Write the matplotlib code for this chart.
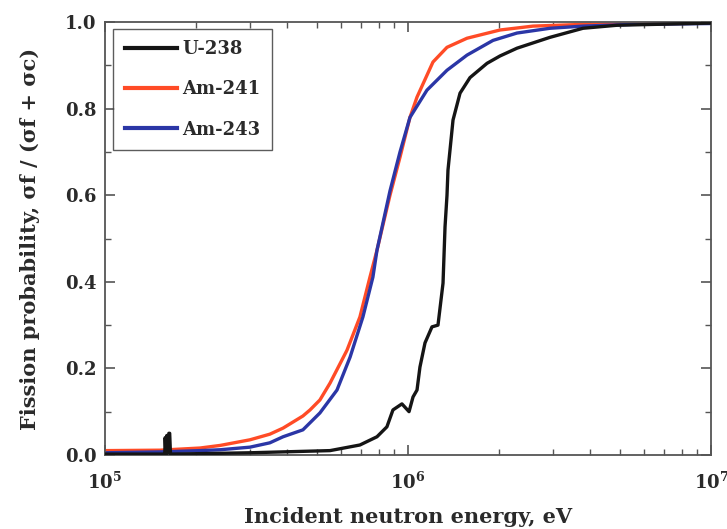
import matplotlib
matplotlib.use("Agg")
import matplotlib.pyplot as plt
from matplotlib.ticker import LogLocator, FixedLocator, NullFormatter, FormatStrFormatter, FixedFormatter

plt.rcParams['font.family'] = ['DejaVu Serif']
plt.rcParams['font.weight'] = 'bold'
plt.rcParams['mathtext.fontset'] = 'dejavuserif'
plt.rcParams['mathtext.default'] = 'bf'

# Data (energy in eV, fission probability)
u238_E = [1.0e5, 1.55e5, 1.575e5, 1.58e5, 1.59e5, 1.60e5, 1.61e5, 1.625e5, 1.635e5, 1.645e5,
          2.06e5, 3.01e5, 5.53e5, 6.94e5, 7.90e5, 8.52e5, 8.92e5, 9.55e5, 1.008e6, 1.039e6,
          1.071e6, 1.095e6, 1.138e6, 1.20e6, 1.256e6, 1.305e6, 1.325e6, 1.345e6, 1.355e6,
          1.408e6, 1.485e6, 1.602e6, 1.823e6, 2.012e6, 2.29e6, 2.94e6, 3.78e6, 4.9e6, 1.0e7]
u238_P = [0.002, 0.002, 0.002, 0.040, 0.003, 0.045, 0.004, 0.050, 0.050, 0.002,
          0.003, 0.005, 0.010, 0.023, 0.042, 0.065, 0.104, 0.118, 0.100, 0.134,
          0.150, 0.203, 0.259, 0.296, 0.300, 0.397, 0.527, 0.600, 0.658,
          0.774, 0.836, 0.872, 0.905, 0.922, 0.940, 0.965, 0.986, 0.993, 0.998]

am241_E = [1.0e5, 1.52e5, 2.06e5, 2.40e5, 3.01e5, 3.50e5, 3.87e5, 4.50e5, 4.75e5, 5.12e5,
           5.53e5, 6.29e5, 6.94e5, 7.49e5, 7.90e5, 8.72e5, 9.41e5, 1.015e6, 1.071e6,
           1.209e6, 1.345e6, 1.566e6, 2.012e6, 2.585e6, 3.78e6, 1.0e7]
am241_P = [0.010, 0.011, 0.016, 0.022, 0.035, 0.048, 0.062, 0.090, 0.104, 0.127,
           0.166, 0.242, 0.319, 0.411, 0.473, 0.600, 0.688, 0.780, 0.827,
           0.908, 0.942, 0.963, 0.982, 0.991, 0.995, 0.998]

am243_E = [1.0e5, 1.52e5, 2.06e5, 2.40e5, 3.01e5, 3.50e5, 3.87e5, 4.50e5, 5.12e5, 5.83e5,
           6.44e5, 7.10e5, 7.66e5, 7.90e5, 8.72e5, 9.41e5, 1.015e6, 1.155e6, 1.345e6,
           1.566e6, 1.908e6, 2.29e6, 2.94e6, 3.78e6, 5.53e6, 1.0e7]
am243_P = [0.005, 0.007, 0.010, 0.012, 0.018, 0.028, 0.042, 0.058, 0.097, 0.150,
           0.226, 0.319, 0.411, 0.473, 0.610, 0.700, 0.780, 0.843, 0.889,
           0.924, 0.958, 0.975, 0.986, 0.991, 0.995, 0.997]

labels = ['U-238', 'Am-241', 'Am-243']
colors = ['#151515', '#FF4B26', '#2B36A6']
x_ticks = [1e5, 1e6, 1e7]
x_ticklabels = [r'$\mathbf{10^5}$', r'$\mathbf{10^6}$', r'$\mathbf{10^7}$']
y_ticks = [0.0, 0.2, 0.4, 0.6, 0.8, 1.0]
y_minor = [0.1, 0.3, 0.5, 0.7, 0.9]

fig = plt.figure(figsize=(7.27, 5.29), dpi=100)
ax = fig.add_axes([0.1444, 0.140, 0.8336, 0.818])

ax.plot(u238_E, u238_P, color=colors[0], lw=2.4, label=labels[0], zorder=3)
ax.plot(am241_E, am241_P, color=colors[1], lw=2.4, label=labels[1], zorder=2)
ax.plot(am243_E, am243_P, color=colors[2], lw=2.4, label=labels[2], zorder=2)

ax.set_xscale('log')
ax.set_xlim(1e5, 1e7)
ax.set_ylim(0, 1.0)
ax.xaxis.set_major_locator(FixedLocator(x_ticks))
ax.xaxis.set_major_formatter(FixedFormatter(x_ticklabels))
ax.xaxis.set_minor_locator(LogLocator(base=10, subs=range(2, 10)))
ax.xaxis.set_minor_formatter(NullFormatter())
ax.yaxis.set_major_locator(FixedLocator(y_ticks))
ax.yaxis.set_major_formatter(FormatStrFormatter('%.1f'))
ax.yaxis.set_minor_locator(FixedLocator(y_minor))

for s in ax.spines.values():
    s.set_color('#555555')
    s.set_linewidth(1.3)
ax.tick_params(which='both', direction='in', top=True, right=True, colors='#555555',
               labelcolor='#2a2a2a', labelsize=13)
ax.tick_params(which='major', length=7, width=1.2)
ax.tick_params(which='minor', length=4, width=1.0)
ax.tick_params(axis='x', which='major', pad=12)
ax.tick_params(axis='y', which='major', pad=6)
for t in ax.get_xticklabels() + ax.get_yticklabels():
    t.set_fontweight('bold')

ax.set_xlabel('Incident neutron energy, eV', fontsize=15, fontweight='bold', color='#2a2a2a', labelpad=10)
ax.set_ylabel('Fission probability, σf / (σf + σc)', fontsize=15, fontweight='bold', color='#2a2a2a', labelpad=18)

leg = ax.legend(loc='upper left', bbox_to_anchor=(0.013, 0.985), frameon=True,
                fancybox=False, edgecolor='#333333', handlelength=2.9, handletextpad=0.3,
                labelspacing=1.22, borderpad=0.65, borderaxespad=0.0,
                prop={'family': 'DejaVu Serif', 'weight': 'bold', 'size': 13})
leg.get_frame().set_linewidth(1.0)
for line in leg.get_lines():
    line.set_linewidth(3.0)
for t in leg.get_texts():
    t.set_color('#2a2a2a')

fig.savefig('out.png', dpi=100)
